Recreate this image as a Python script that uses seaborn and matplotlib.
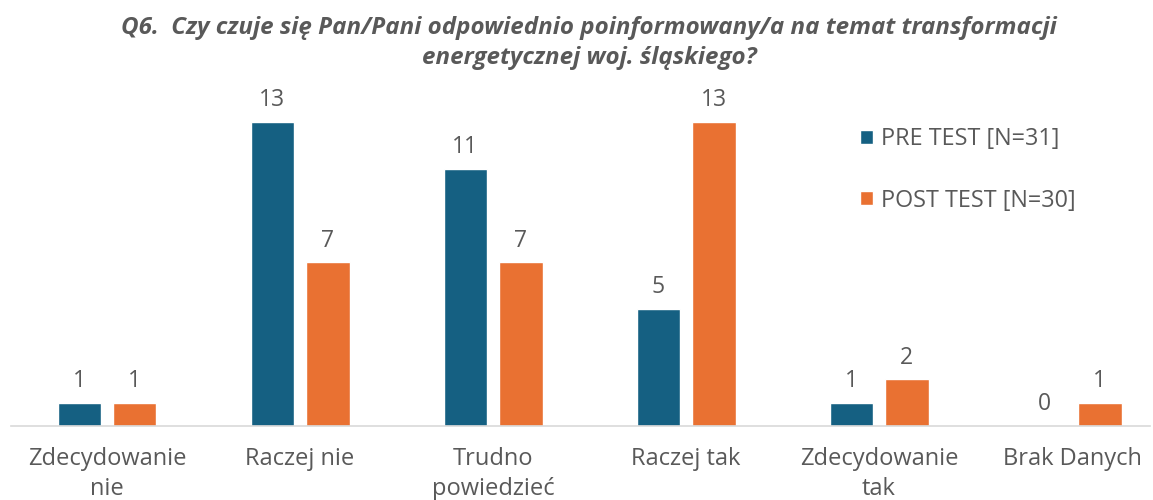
import numpy as np
import pandas as pd
import matplotlib.pyplot as plt
import seaborn as sns

categories = ["Zdecydowanie\nnie", "Raczej nie", "Trudno\npowiedzieć",
              "Raczej tak", "Zdecydowanie\ntak", "Brak Danych"]
pre_test = [1, 13, 11, 5, 1, 0]
post_test = [1, 7, 7, 13, 2, 1]
series = ["PRE TEST [N=31]", "POST TEST [N=30]"]
colors = ["#156082", "#E97132"]

df = pd.DataFrame({
    "kategoria": categories * 2,
    "liczba": pre_test + post_test,
    "grupa": [series[0]] * len(categories) + [series[1]] * len(categories),
})

sns.set_theme(style="white")
plt.rcParams['font.family'] = ['Open Sans', 'DejaVu Sans']
grey = "#595959"

fig = plt.figure(figsize=(11.53, 5.0), dpi=100)
ax = fig.add_axes([10.5 / 1153, 74 / 500, 1139.5 / 1153, 336 / 500])

sns.barplot(data=df, x="kategoria", y="liczba", hue="grupa", palette=colors,
            saturation=1, width=0.575, gap=0.216, ax=ax, legend=True)

for c in ax.containers:
    ax.bar_label(c, padding=7, fontsize=16.5, color=grey)

ax.set_xlim(-0.5, 5.404)
ax.set_ylim(0, 14.37)
ax.set_xlabel("")
ax.set_ylabel("")
ax.set_yticks([])
for s in ["top", "right", "left"]:
    ax.spines[s].set_visible(False)
ax.spines["bottom"].set_color("#d9d9d9")
ax.spines["bottom"].set_linewidth(1.2)
ax.tick_params(axis="x", length=0, pad=15, labelsize=17, labelcolor=grey)
for t in ax.get_xticklabels():
    t.set_linespacing(1.33)

leg = ax.legend(loc="upper left", bbox_to_anchor=(839 / 1153, 1 - 106 / 500),
                bbox_transform=fig.transFigure, frameon=False, fontsize=16.8,
                labelcolor=grey, handlelength=0.55, handleheight=0.55,
                handletextpad=0.35, labelspacing=1.61)

fig.text(0.511, 1 - 43 / 500,
         "Q6.  Czy czuje się Pan/Pani odpowiednio poinformowany/a na temat transformacji\nenergetycznej woj. śląskiego?",
         ha="center", va="center", fontsize=17.4, fontweight="bold",
         fontstyle="italic", color=grey, linespacing=1.3)

fig.savefig("out.png", dpi=100)
